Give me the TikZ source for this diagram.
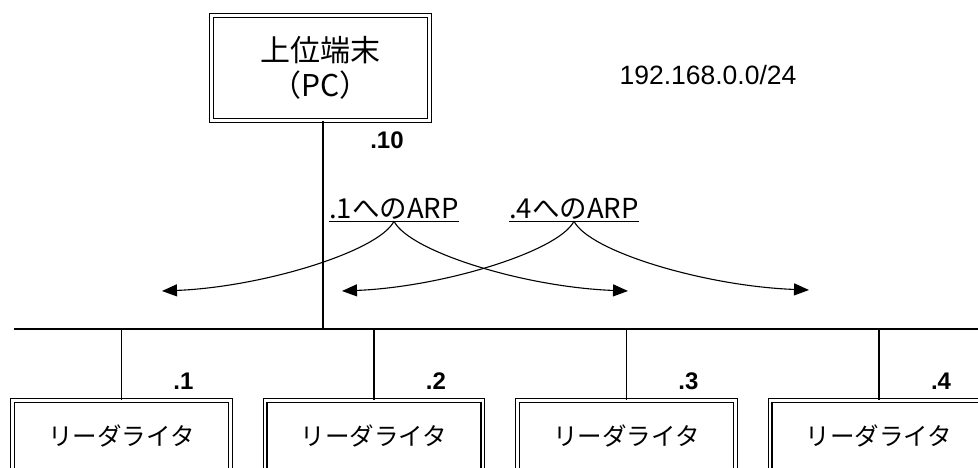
\documentclass[tikz,border=0pt]{standalone}
\usepackage{fontspec}
\setmainfont{Noto Sans CJK JP}
\newfontfamily\arialfont{Liberation Sans}
\usetikzlibrary{arrows.meta}
\tikzset{
  frame/.style={draw,double,double distance=2.5pt,line width=1.4pt,inner sep=0pt,
                minimum width=217.6pt,align=center},
  wire/.style={line width=1.2pt},
  arr/.style={-{Triangle[length=15pt,width=12pt]},line width=1.1pt},
  addr/.style={font=\arialfont\bfseries\fontsize{24}{24}\selectfont,inner sep=0pt},
  arplbl/.style={font=\fontsize{27.5}{27.5}\selectfont,inner xsep=0pt,inner ysep=0pt,
                 text height=21pt,text depth=3pt}
}
\begin{document}
\begin{tikzpicture}[x=1pt,y=-1pt]
    \clip (0,0) rectangle (978,467);
    % host PC and LAN
    \node[frame,minimum height=104.6pt,font=\fontsize{30}{35}\selectfont] (pc) at (320.5,68) {上位端末\\（PC）};
    \node[addr] (pcad) at (387,140) {.10};
    \node[font=\arialfont\fontsize{26.5}{26.5}\selectfont,inner sep=0pt] (net) at (708,75) {192.168.0.0/24};
    \coordinate (busL) at (14,329);
    \coordinate (busR) at (982,329);
    \draw[wire] (busL) -- (busR);
    \draw[wire] ([xshift=2.5pt]pc.south) -- ([xshift=2.5pt]pc.south |- busL);
    % reader/writers
    \foreach \x/\n in {121.5/1,374/2,626.5/3,879/4}{
      \node[frame,anchor=north,minimum height=72pt,font=\fontsize{24.5}{24.5}\selectfont] (rw\n) at (\x,399.7) {リーダライタ};
      \node[addr] (ad\n) at (\x+62,381) {.\n};
      \draw[wire] (rw\n.north) -- (rw\n.north |- busL);
    }
    % ARP broadcasts
    \node[arplbl] (arp1) at (394,209) {.1へのARP};
    \node[arplbl] (arp4) at (574,209) {.4へのARP};
    \draw[line width=1pt] (arp1.south west) -- (arp1.south east);
    \draw[line width=1pt] (arp4.south west) -- (arp4.south east);
    \coordinate (tl1) at (162,291);
    \coordinate (tr1) at (628,291);
    \coordinate (tl4) at (342,291);
    \coordinate (tr4) at (809,290);
    \draw[arr] (arp1.south) .. controls +(-15,30) and +(101,-4) .. (tl1);
    \draw[arr] (arp1.south) .. controls +(15,30) and +(-105,-4) .. (tr1);
    \draw[arr] (arp4.south) .. controls +(-15,30) and +(101,-4) .. (tl4);
    \draw[arr] (arp4.south) .. controls +(15,30) and +(-105,-4) .. (tr4);
\end{tikzpicture}
\end{document}
